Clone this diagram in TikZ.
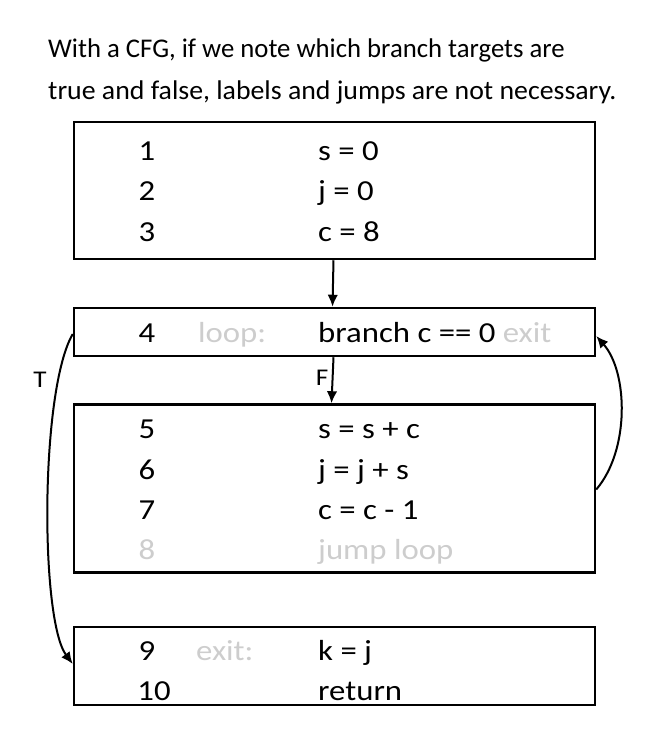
\documentclass[tikz,border=0pt]{standalone}
\usepackage{fontspec}
\setmainfont{Carlito}
\newfontfamily\codefont[FakeStretch=1.13]{Carlito}
\newfontfamily\titlefonta[FakeStretch=0.99]{Carlito}
\newfontfamily\titlefontb[FakeStretch=1.03]{Carlito}
\usetikzlibrary{arrows.meta}
\definecolor{lgray}{RGB}{205,205,205}
\begin{document}
\begin{tikzpicture}[x=1pt,y=-1pt,
  box/.style={draw=black,line width=2.5pt,inner sep=0pt},
  code/.style={anchor=base west,inner sep=0pt,font=\codefont\fontsize{29}{34}\selectfont},
  num/.style={anchor=base,inner sep=0pt,font=\codefont\fontsize{29}{34}\selectfont},
  lab/.style={anchor=base west,inner sep=0pt,font=\codefont\fontsize{29}{34}\selectfont,text=lgray},
  small/.style={inner sep=0pt,font=\codefont\fontsize{24}{28}\selectfont},
  title/.style={anchor=base west,inner sep=0pt},
  arr/.style={line width=2pt,-{Latex[length=12pt,width=10.5pt]}}]
\useasboundingbox (0,0) rectangle (663,729);
% title
\node[title,font=\titlefonta\fontsize{27}{32}\selectfont] (t1) at (48,57) {With a CFG, if we note which branch targets are};
\node[title,font=\titlefontb\fontsize{27}{32}\selectfont] (t2) at (48,99) {true and false, labels and jumps are not necessary.};
% boxes
\node[box,minimum width=521pt,minimum height=137pt] (b1) at (334.5,190.5) {};
\node[box,minimum width=521pt,minimum height=48pt] (b2) at (334.5,332) {};
\node[box,minimum width=521pt,minimum height=168pt] (b3) at (334.5,488.5) {};
\node[box,minimum width=521pt,minimum height=78pt] (b4) at (334.5,666) {};
% box 1
\node[num] (n1) at (147,160) {1};
\node[code] (c1) at (318,160) {s = 0};
\node[num] (n2) at (147,200) {2};
\node[code] (c2) at (318,200) {j = 0};
\node[num] (n3) at (147,241) {3};
\node[code] (c3) at (318,241) {c = 8};
% box 2
\node[num] (n4) at (147,342) {4};
\node[lab] (l4) at (198,342) {loop:};
\node[code] (c4) at (318,342) {branch c == 0 \textcolor{lgray}{exit}};
% box 3
\node[num] (n5) at (147,438) {5};
\node[code] (c5) at (318,438) {s = s + c};
\node[num] (n6) at (147,479) {6};
\node[code] (c6) at (318,479) {j = j + s};
\node[num] (n7) at (147,519) {7};
\node[code] (c7) at (318,519) {c = c - 1};
\node[num,text=lgray] (n8) at (147,559) {8};
\node[lab] (c8) at (318,559) {jump loop};
% box 4
\node[num] (n9) at (147,660) {9};
\node[lab] (l9) at (196,660) {exit:};
\node[code] (c9) at (318,660) {k = j};
\node[num] (n10) at (154,700) {10};
\node[code] (c10) at (318,700) {return};
% edge labels
\node[small] (T) at (40,380) {T};
\node[small] (F) at (322,378) {F};
% arrows
\draw[arr] ([xshift=-1pt]b1.south) -- ([xshift=-2pt]b2.north);
\draw[arr] ([xshift=-1pt]b2.south) -- ([xshift=-3pt]b3.north);
\draw[arr] ([yshift=-2pt]b2.west) .. controls (40,390) and (40,620) .. ([yshift=2pt]b4.west);
\draw[arr] ([yshift=-1pt]b3.east) .. controls (630,450) and (628,372) .. ([yshift=-4pt]b2.east);
\end{tikzpicture}
\end{document}
